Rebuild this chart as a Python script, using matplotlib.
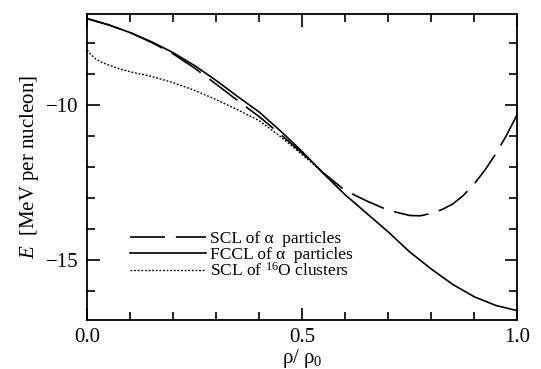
import numpy as np
import matplotlib
matplotlib.use('Agg')
import matplotlib.pyplot as plt
from matplotlib.ticker import MultipleLocator

plt.rcParams['font.family'] = ['Liberation Serif', 'DejaVu Serif']
plt.rcParams['mathtext.fontset'] = 'custom'
plt.rcParams['mathtext.rm'] = 'Liberation Serif'
plt.rcParams['mathtext.it'] = 'Liberation Serif:italic'

# values
rho_scl = [0.0, 0.05, 0.1, 0.15, 0.2, 0.25, 0.3, 0.35, 0.4, 0.45, 0.5, 0.55,
           0.6, 0.65, 0.7, 0.75, 0.775, 0.8, 0.825, 0.85, 0.875, 0.9, 0.925,
           0.95, 0.975, 1.0]
e_scl = [-7.2, -7.4, -7.65, -7.97, -8.34, -8.8, -9.32, -9.85, -10.37, -10.95,
         -11.55, -12.2, -12.76, -13.1, -13.4, -13.57, -13.58, -13.5, -13.38,
         -13.2, -12.92, -12.55, -12.1, -11.58, -10.98, -10.3]

rho_fccl = [0.0, 0.05, 0.1, 0.15, 0.2, 0.25, 0.3, 0.35, 0.4, 0.45, 0.5, 0.55,
            0.6, 0.65, 0.7, 0.75, 0.8, 0.85, 0.9, 0.95, 1.0]
e_fccl = [-7.2, -7.4, -7.65, -7.95, -8.3, -8.72, -9.2, -9.72, -10.22, -10.84,
          -11.5, -12.22, -12.9, -13.5, -14.1, -14.75, -15.3, -15.8, -16.2,
          -16.48, -16.65]

rho_o16 = [0.0, 0.01, 0.02, 0.035, 0.05, 0.075, 0.1, 0.15, 0.2, 0.25, 0.3,
           0.35, 0.4, 0.45, 0.5, 0.55, 0.59]
e_o16 = [-8.22, -8.38, -8.5, -8.62, -8.7, -8.82, -8.92, -9.07, -9.27, -9.52,
         -9.82, -10.15, -10.5, -11.02, -11.6, -12.2, -12.75]

fig = plt.figure(figsize=(5.41, 3.69), dpi=100)
ax = fig.add_axes([0.161, 0.133, 0.795, 0.829])

ax.plot(rho_scl, e_scl, color='black', lw=1.2, dashes=(21, 6.5),
        label='SCL of α  particles')
ax.plot(rho_fccl, e_fccl, color='black', lw=1.2,
        label='FCCL of α  particles')
ax.plot(rho_o16, e_o16, color='black', lw=1.0, dashes=(1.3, 1.3),
        label=r'SCL of $^{16}$O clusters')

ax.set_xlim(0, 1)
ax.set_ylim(-16.95, -7.05)
ax.xaxis.set_major_locator(MultipleLocator(0.5))
ax.xaxis.set_minor_locator(MultipleLocator(0.1))
ax.yaxis.set_major_locator(MultipleLocator(5))
ax.yaxis.set_minor_locator(MultipleLocator(1))
ax.xaxis.set_major_formatter(plt.FuncFormatter(lambda v, p: f'{v:.1f}'))
ax.yaxis.set_major_formatter(plt.FuncFormatter(lambda v, p: f'\u2212{abs(v):.0f}'))
ax.tick_params(which='both', direction='in', top=True, right=True,
               width=1.2, labelsize=15)
ax.tick_params(which='major', length=9, pad=6)
ax.tick_params(which='minor', length=6)
for s in ax.spines.values():
    s.set_linewidth(1.3)

ax.set_xlabel(r'$\mathrm{\rho/\ \rho_0}$', fontsize=15, labelpad=0)
ax.set_ylabel(r'$E$  [MeV per nucleon]', fontsize=15, labelpad=4)

ax.legend(loc='upper left', bbox_to_anchor=(0.1, 0.29), frameon=False,
          fontsize=12.5, handlelength=4.4, handletextpad=0.2,
          labelspacing=-0.05, borderpad=0, borderaxespad=0)

fig.savefig('out.png', dpi=100)
